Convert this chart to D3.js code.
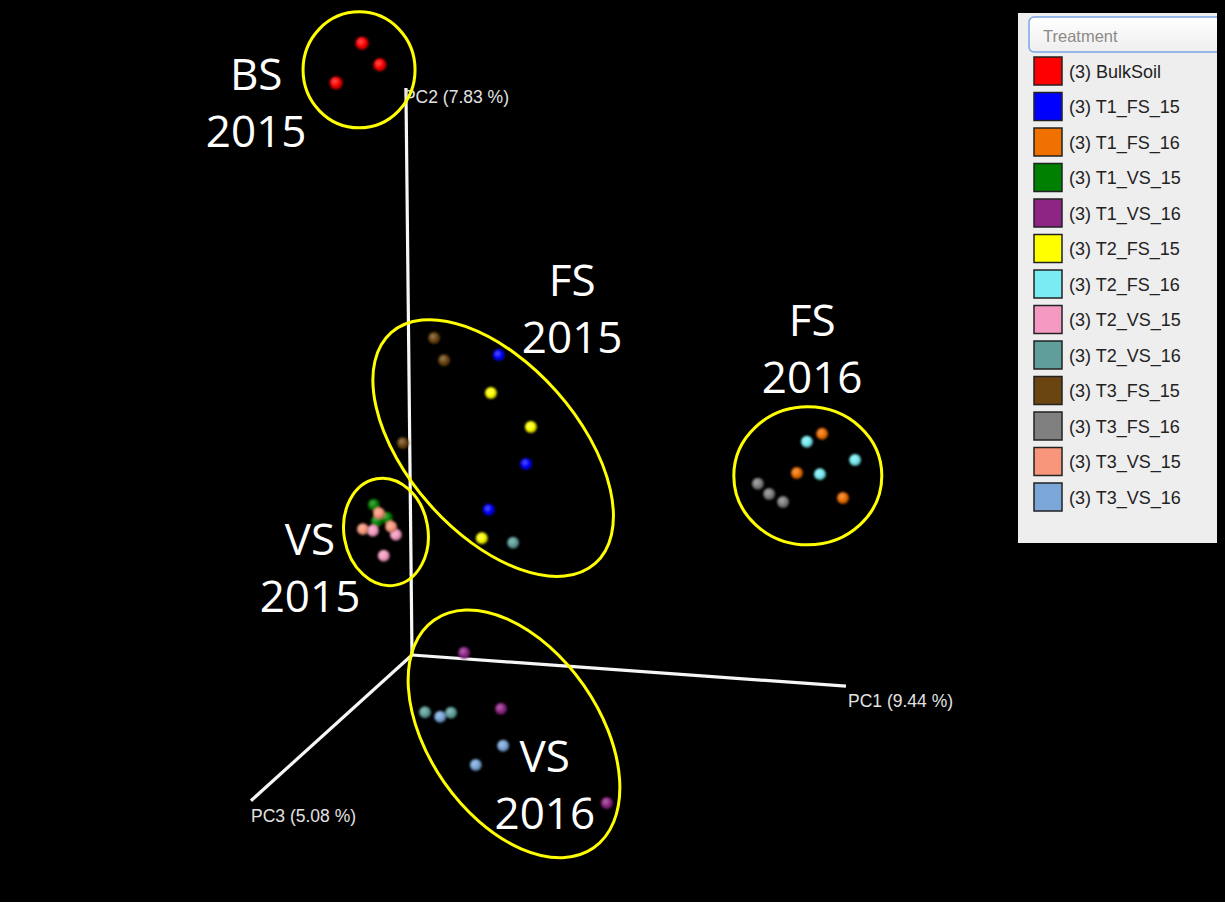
<!DOCTYPE html>
<html><head><meta charset="utf-8">
<script src="https://cdn.jsdelivr.net/npm/d3@7"></script>
<style>html,body{margin:0;padding:0;background:#fff;overflow:hidden}svg{display:block}</style>
</head><body>
<script>
// ---- data (projected PCoA coordinates, units: % of PC1 / PC2 axis length) ----
const categories = ["(3) BulkSoil","(3) T1_FS_15","(3) T1_FS_16","(3) T1_VS_15","(3) T1_VS_16","(3) T2_FS_15","(3) T2_FS_16","(3) T2_VS_15","(3) T2_VS_16","(3) T3_FS_15","(3) T3_FS_16","(3) T3_VS_15","(3) T3_VS_16"];
const colors = ["#ff0000","#0000ff","#f07000","#008000","#8e2585","#ffff00","#78ecf2","#f49ac2","#5f9e9a","#6b4510","#808080","#f7967a","#7aa6d8"];
const seriesX = [
  [-11.5,-7.4,-17.5],   // BulkSoil
  [20.0,26.3,17.7],     // T1_FS_15
  [94.5,88.7,99.3],     // T1_FS_16
  [-8.8,-8.1,-5.8],     // T1_VS_15
  [12.0,20.5,44.9],     // T1_VS_16
  [18.2,27.4,16.1],     // T2_FS_15
  [91.0,102.1,94.0],    // T2_FS_16
  [-9.0,-3.7,-6.5],     // T2_VS_15
  [23.3,3.0,9.0],       // T2_VS_16
  [5.1,7.4,-2.1],       // T3_FS_15
  [79.7,82.3,85.5],     // T3_FS_16
  [-7.6,-11.3,-4.8],    // T3_VS_15
  [6.5,21.0,14.7]       // T3_VS_16
];
const seriesY = [
  [107.9,104.1,100.9],
  [52.9,33.7,25.6],
  [39.0,32.1,27.7],
  [26.5,23.6,24.2],
  [0.4,-9.5,-26.1],
  [46.2,40.2,20.6],
  [37.6,34.4,31.9],
  [21.9,21.2,17.5],
  [19.8,-10.1,-10.2],
  [55.9,52.0,37.4],
  [30.2,28.4,27.0],
  [25.0,22.2,22.6],
  [-10.9,-16.0,-19.4]
];
const axisNames = ["PC1 (9.44 %)","PC2 (7.83 %)","PC3 (5.08 %)"];
const axisEndX = [100, -1.4, -37.1];
const axisEndY = [-5.5, 100, -25.7];
const groupLabels = [["BS","2015"],["FS","2015"],["FS","2016"],["VS","2015"],["VS","2016"]];
const legendTitle = "Treatment";

// ---- layout ----
const W = 1225, H = 905;
const svg = d3.select("body").append("svg").attr("width", W).attr("height", H);
svg.append("rect").attr("x",0).attr("y",0).attr("width",1225).attr("height",902).attr("fill","#000");

const x = d3.scaleLinear().domain([0,100]).range([412,846]);
const y = d3.scaleLinear().domain([0,100]).range([655,88]);

const defs = svg.append("defs");
colors.forEach((c,i)=>{
  const g = defs.append("radialGradient").attr("id","sph"+i).attr("cx","40%").attr("cy","38%").attr("r","62%");
  g.append("stop").attr("offset","0%").attr("stop-color", d3.interpolateRgb(c,"#fff")(0.35));
  g.append("stop").attr("offset","55%").attr("stop-color", c);
  g.append("stop").attr("offset","100%").attr("stop-color", d3.interpolateRgb(c,"#000")(0.3));
});
defs.append("filter").attr("id","soft").append("feGaussianBlur").attr("stdDeviation",0.8);

// axes
const axG = svg.append("g");
axisNames.forEach((n,i)=>{
  axG.append("line").attr("x1",x(0)).attr("y1",y(0)).attr("x2",x(axisEndX[i])).attr("y2",y(axisEndY[i]))
    .attr("stroke","#f6f6f6").attr("stroke-width",3.2).attr("stroke-linecap","butt");
});
const labOff = [[2,21],[-2,15],[0,21]];
axisNames.forEach((n,i)=>{
  axG.append("text").attr("x",x(axisEndX[i])+labOff[i][0]).attr("y",y(axisEndY[i])+labOff[i][1])
    .attr("font-family","Liberation Sans, Arial, sans-serif").attr("font-size",17.5).attr("fill","#e2e2e2").text(n);
});

// points
const pts = [];
categories.forEach((c,i)=>seriesX[i].forEach((vx,j)=>pts.push({i, vx, vy: seriesY[i][j]})));
svg.append("g").attr("filter","url(#soft)").selectAll("circle").data(pts).join("circle")
  .attr("cx",d=>x(d.vx)).attr("cy",d=>y(d.vy)).attr("r",d=>d.i===0?6.5:6)
  .attr("fill",d=>`url(#sph${d.i})`);

// annotation ellipses
const ell = [
  {cx:-12.2, cy:103.2, rx:56, ry:58, rot:0},
  {cx:18.7, cy:36.5, rx:154, ry:85, rot:48.5},
  {cx:91.2, cy:31.6, rx:74, ry:69, rot:0},
  {cx:-6.0, cy:21.7, rx:54, ry:42, rot:80},
  {cx:23.5, cy:-13.9, rx:139, ry:85, rot:55}
];
svg.append("g").selectAll("ellipse").data(ell).join("ellipse")
  .attr("transform",d=>`translate(${x(d.cx)},${y(d.cy)}) rotate(${d.rot})`)
  .attr("rx",d=>d.rx).attr("ry",d=>d.ry).attr("fill","none").attr("stroke","#ffff00").attr("stroke-width",3);

// annotation texts (center x, baseline of first line) in data units
const labPos = [[-35.9,99.6],[36.9,63.4],[92.2,56.3],[-23.5,17.6],[30.6,-20.6]];
const annG = svg.append("g").attr("font-family","Open Sans, sans-serif").attr("font-size",44).attr("fill","#fff").attr("text-anchor","middle");
groupLabels.forEach((g,k)=>{
  const t = annG.append("text").attr("x",x(labPos[k][0])).attr("y",y(labPos[k][1]));
  t.append("tspan").attr("x",x(labPos[k][0])).text(g[0]);
  t.append("tspan").attr("x",x(labPos[k][0])).attr("dy",57).text(g[1]);
});

// legend panel
const lg = svg.append("g");
lg.append("rect").attr("x",1018).attr("y",13).attr("width",199).attr("height",530).attr("fill","#eeeeee");
const bg = defs.append("linearGradient").attr("id","boxg").attr("x1",0).attr("y1",0).attr("x2",0).attr("y2",1);
bg.append("stop").attr("offset","0%").attr("stop-color","#ffffff");
bg.append("stop").attr("offset","100%").attr("stop-color","#eeeeee");
lg.append("clipPath").attr("id","pclip").append("rect").attr("x",1018).attr("y",13).attr("width",199).attr("height",530);
lg.append("rect").attr("clip-path","url(#pclip)").attr("x",1029).attr("y",17).attr("width",200).attr("height",35).attr("rx",5)
  .attr("fill","url(#boxg)").attr("stroke","#7aa7e8").attr("stroke-width",1.5);
lg.append("text").attr("x",1043).attr("y",42).attr("font-family","Liberation Sans, Arial, sans-serif").attr("font-size",16.5).attr("fill","#8d8a86").text(legendTitle);
const row = d3.scaleLinear().domain([0,12]).range([71,497]);
const items = lg.selectAll("g.item").data(categories).join("g").attr("class","item")
  .attr("transform",(d,i)=>`translate(0,${row(i)})`);
items.append("rect").attr("x",1034).attr("y",-14).attr("width",28).attr("height",28).attr("fill",(d,i)=>colors[i]).attr("stroke","#222").attr("stroke-width",1.5);
items.append("text").attr("x",1069).attr("y",6.5).attr("font-family","Liberation Sans, Arial, sans-serif").attr("font-size",18).attr("fill","#222").text(d=>d);
</script>
</body></html>
